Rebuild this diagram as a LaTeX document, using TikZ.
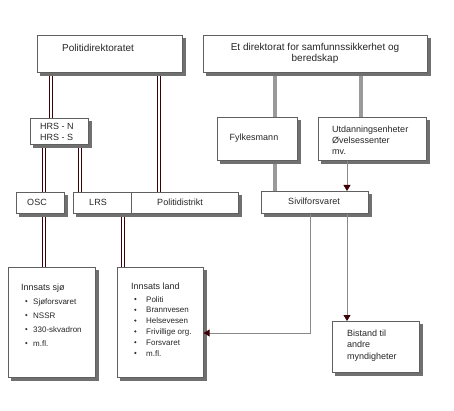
\documentclass[tikz,border=0pt]{standalone}
\usepackage{fontspec}
\setmainfont{Liberation Sans}
\usetikzlibrary{arrows.meta,backgrounds}
\definecolor{dred}{HTML}{3C0008}
\definecolor{gline}{HTML}{9A9A9A}
\definecolor{thinc}{HTML}{8A8A8A}
\definecolor{shad}{HTML}{707070}
\definecolor{bord}{HTML}{606060}
\begin{document}
\begin{tikzpicture}[x=1pt,y=-1pt,
  box/.style={draw=bord, line width=0.6pt, fill=white, inner sep=0pt, anchor=north west,
     preaction={fill=shad, draw=shad, transform canvas={xshift=3pt,yshift=-3pt}}},
  txt/.style={inner sep=0pt, anchor=base west, font=\fontsize{9}{11}\selectfont, text=black!85},
  ctxt/.style={txt, anchor=base},
  big/.style={font=\fontsize{10}{12}\selectfont},
  small/.style={font=\fontsize{8}{10}\selectfont},
  dbl/.style={draw=none,
     preaction={draw=dred, line width=1pt, transform canvas={xshift=-1.2pt}},
     postaction={draw=dred, line width=1pt, transform canvas={xshift=1.2pt}}},
  gry/.style={draw=gline, line width=4pt},
  thn/.style={draw=thinc, line width=0.8pt},
  arr/.style={-{Triangle[length=6pt,width=7pt,color=dred]}},
  bul/.style={fill=black!80}]
\useasboundingbox (0,0) rectangle (454,411);

% boxes
\node[box, minimum width=145pt, minimum height=37pt] (P) at (37,35) {};
\node[box, minimum width=224pt, minimum height=37pt] (E) at (203,35) {};
\node[box, minimum width=58pt, minimum height=26pt] (HRS) at (30,118) {};
\node[box, minimum width=48pt, minimum height=21pt] (OSC) at (16,192) {};
\node[box, minimum width=165pt, minimum height=21pt] (LP) at (73,192) {};
\node[box, minimum width=80pt, minimum height=43pt] (F) at (217,117) {};
\node[box, minimum width=108pt, minimum height=43pt] (U) at (318,117) {};
\node[box, minimum width=107pt, minimum height=22pt] (S) at (261,191) {};
\node[box, minimum width=87pt, minimum height=110pt] (SJ) at (8,267) {};
\node[box, minimum width=86pt, minimum height=110pt] (LAND) at (117,267) {};
\node[box, minimum width=87pt, minimum height=51pt] (B) at (332,321) {};

% x positions of connectors
\coordinate (xa) at (51,0);
\coordinate (xb) at (159,0);
\coordinate (xc) at (44,0);
\coordinate (xd) at (80,0);
\coordinate (xe) at (123,0);
\coordinate (xf) at (275,0);
\coordinate (xg) at (361,0);
\coordinate (xh) at (347,0);
\coordinate (xi) at (310,0);
\coordinate (yj) at (0,333);
\coordinate (xdiv) at (131,0);

\draw[bord, line width=0.6pt] (LP.north -| xdiv) -- (LP.south -| xdiv);

\begin{scope}[on background layer]
\draw[dbl] (P.south -| xa) -- (HRS.north -| xa);
\draw[dbl] (P.south -| xb) -- (LP.north -| xb);
\draw[dbl] (HRS.south -| xc) -- (OSC.north -| xc);
\draw[dbl] (HRS.south -| xd) -- (LP.north -| xd);
\draw[dbl] (OSC.south -| xc) -- (SJ.north -| xc);
\draw[dbl] (LP.south -| xe) -- (LAND.north -| xe);
\draw[gry] (E.south -| xf) -- (F.north -| xf);
\draw[gry] (E.south -| xg) -- (U.north -| xg);
\draw[gry] (F.south -| xf) -- (S.north -| xf);
\end{scope}
\draw[thn,arr] (U.south -| xh) -- (S.north -| xh);
\draw[thn,arr] (S.south -| xi) |- (LAND.east |- yj);
\draw[thn,arr] (S.south -| xh) -- (B.north -| xh);

% texts
\node[txt, big] (tP) at (62,51.5) {Politidirektoratet};
\node[ctxt, big] (tE1) at (315,50.5) {Et direktorat for samfunnssikkerhet og};
\node[ctxt, big] (tE2) at (315,62) {beredskap};
\node[txt] (tH1) at (40,130) {HRS - N};
\node[txt] (tH2) at (40,141) {HRS - S};
\node[ctxt] (tOSC) at (37,205.5) {OSC};
\node[ctxt] (tLRS) at (98,205.5) {LRS};
\node[ctxt] (tPD) at (180,205.5) {Politidistrikt};
\node[ctxt] (tF) at (254,141) {Fylkesmann};
\node[txt] (tU1) at (332,133) {Utdanningsenheter};
\node[txt] (tU2) at (332,144) {Øvelsessenter};
\node[txt] (tU3) at (332,155) {mv.};
\node[ctxt] (tS) at (314,205) {Sivilforsvaret};
\node[txt] (tB1) at (347,336) {Bistand til};
\node[txt] (tB2) at (347,347.5) {andre};
\node[txt] (tB3) at (347,359) {myndigheter};

\node[txt] (tSJ) at (21,290) {Innsats sjø};
\foreach \t [count=\i from 0] in {Sjøforsvaret,NSSR,330-skvadron,m.fl.} {
  \node[txt, small] (sj\i) at (33,{304+14*\i}) {\t};
  \fill[bul] (26.3,{301+14*\i}) circle (1.2);
}
\node[txt] (tLAND) at (131,289) {Innsats land};
\foreach \t [count=\i from 0] in {Politi,Brannvesen,Helsevesen,Frivillige org.,Forsvaret,m.fl.} {
  \node[txt, small] (la\i) at (146,{302+10.8*\i}) {\t};
  \fill[bul] (135.3,{299+10.8*\i}) circle (1.2);
}
\end{tikzpicture}
\end{document}
